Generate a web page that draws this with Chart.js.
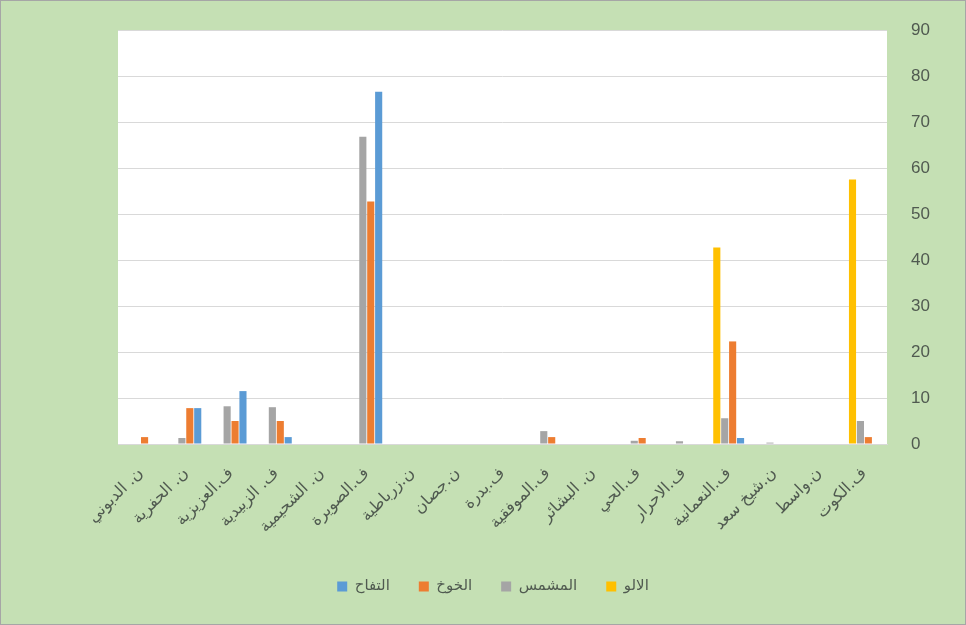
<!DOCTYPE html>
<html>
<head>
<meta charset="utf-8">
<script src="https://cdn.jsdelivr.net/npm/chart.js@4"></script>
<style>
  html, body { margin: 0; padding: 0; background: #c5e0b4; }
  #wrap { width: 964px; height: 623px; border: 1px solid #a6a6a6; }
</style>
</head>
<body>
<div id="wrap"><canvas id="chart" width="964" height="623"></canvas></div>
<script>
// Categories (left to right as drawn)
const districts = [
  "ن. الدبوني", "ن. الحفرية", "ف.العزيزية", "ف. الزبيدية", "ن. الشحيمية",
  "ف.الصويرة", "ن.زرباطية", "ن.جصان", "ف.بدرة", "ف.الموفقية",
  "ن. البشائر", "ف.الحي", "ف.الاحرار", "ف.النعمانية", "ن.شيخ سعد",
  "ن.واسط", "ف.الكوت"
];

// Series values
const plum    = [0, 0, 0, 0, 0, 0, 0, 0, 0, 0, 0, 0, 0, 42.7, 0, 0, 57.5];          // الالو
const apricot = [0, 1.3, 8.2, 8, 0, 66.8, 0, 0, 0, 2.8, 0, 0.7, 0.6, 5.6, 0.3, 0, 5]; // المشمس
const peach   = [1.5, 7.8, 5, 5, 0, 52.7, 0, 0, 0, 1.5, 0, 1.3, 0, 22.3, 0, 0, 1.5]; // الخوخ
const apple   = [0, 7.8, 11.5, 1.5, 0, 76.6, 0, 0, 0, 0, 0, 0, 0, 1.3, 0, 0, 0];     // التفاح

const yTicks = [0, 10, 20, 30, 40, 50, 60, 70, 80, 90];

const textColor = "#505a50";
const arabicFont = "'DejaVu Sans', 'Liberation Sans'";

// White plot area
const plotBg = {
  id: "plotBg",
  beforeDraw(chart) {
    const a = chart.chartArea;
    const c = chart.ctx;
    c.save();
    c.fillStyle = "#ffffff";
    c.fillRect(a.left, a.top, a.right - a.left, a.bottom - a.top);
    c.restore();
  }
};

const ctx = document.getElementById("chart").getContext("2d");
new Chart(ctx, {
  type: "bar",
  data: {
    labels: districts,
    datasets: [
      { label: "الالو", data: plum, backgroundColor: "#ffc000", yAxisID: "y" },
      { label: "المشمس", data: apricot, backgroundColor: "#a5a5a5", yAxisID: "y" },
      { label: "الخوخ", data: peach, backgroundColor: "#ed7d31", yAxisID: "y" },
      { label: "التفاح", data: apple, backgroundColor: "#5b9bd5", yAxisID: "y" }
    ]
  },
  options: {
    responsive: false,
    animation: false,
    layout: { padding: { left: 20, top: 29, right: 0, bottom: 20 } },
    datasets: { bar: { categoryPercentage: 0.7, barPercentage: 0.9 } },
    plugins: {
      legend: {
        position: "bottom",
        reverse: true,
        labels: {
          boxWidth: 10, boxHeight: 10, padding: 29,
          color: textColor,
          font: { size: 15, family: arabicFont }
        }
      },
      tooltip: { enabled: false }
    },
    scales: {
      x: {
        grid: { display: false },
        border: { color: "#d9d9d9" },
        ticks: {
          minRotation: 45, maxRotation: 45, autoSkip: false,
          padding: 12,
          color: textColor,
          font: { size: 16, family: arabicFont }
        },
        afterFit(scale) { scale.height = 106; }
      },
      // spacer on the left, keeps the plot where the reference has it
      yLeft: {
        position: "left",
        display: true,
        min: 0, max: 90,
        grid: { display: false },
        border: { display: false },
        ticks: { display: false },
        afterFit(scale) { scale.width = 97; }
      },
      y: {
        position: "right",
        min: 0, max: 90,
        afterBuildTicks(scale) { scale.ticks = yTicks.map(v => ({ value: v })); },
        grid: { color: "#d9d9d9", drawTicks: false },
        border: { display: false },
        ticks: {
          padding: 24,
          color: textColor,
          font: { size: 17, family: "'Liberation Sans', 'DejaVu Sans'" }
        },
        afterFit(scale) {
          scale.width = 78;
          scale.paddingTop = 0;
          scale.paddingBottom = 0;
        }
      }
    }
  },
  plugins: [plotBg]
});
</script>
</body>
</html>
